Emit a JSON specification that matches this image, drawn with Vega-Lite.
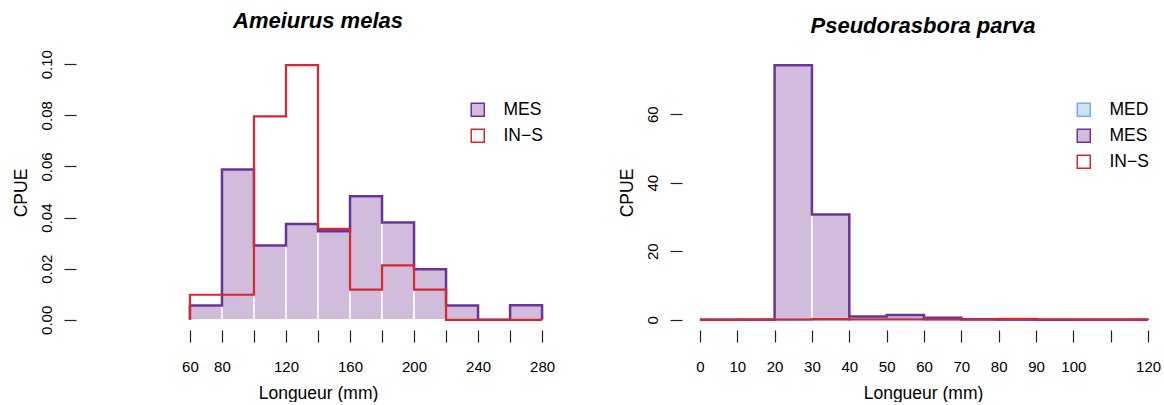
{
  "$schema": "https://vega.github.io/schema/vega-lite/v6.json",
  "padding": {"left": 12, "top": 9, "right": 0, "bottom": 0},
  "spacing": 58,
  "background": "white",
  "datasets": {
    "bins": [
      {"sp": "A", "grp": "MES", "lo": 60, "hi": 80, "cpue": 0.0056},
      {"sp": "A", "grp": "MES", "lo": 80, "hi": 100, "cpue": 0.0588},
      {"sp": "A", "grp": "MES", "lo": 100, "hi": 120, "cpue": 0.0291},
      {"sp": "A", "grp": "MES", "lo": 120, "hi": 140, "cpue": 0.0375},
      {"sp": "A", "grp": "MES", "lo": 140, "hi": 160, "cpue": 0.0346},
      {"sp": "A", "grp": "MES", "lo": 160, "hi": 180, "cpue": 0.0483},
      {"sp": "A", "grp": "MES", "lo": 180, "hi": 200, "cpue": 0.0381},
      {"sp": "A", "grp": "MES", "lo": 200, "hi": 220, "cpue": 0.0198},
      {"sp": "A", "grp": "MES", "lo": 220, "hi": 240, "cpue": 0.0056},
      {"sp": "A", "grp": "MES", "lo": 240, "hi": 260, "cpue": 0},
      {"sp": "A", "grp": "MES", "lo": 260, "hi": 280, "cpue": 0.0057},
      {"sp": "A", "grp": "IN-S", "lo": 60, "hi": 80, "cpue": 0.0098},
      {"sp": "A", "grp": "IN-S", "lo": 80, "hi": 100, "cpue": 0.0098},
      {"sp": "A", "grp": "IN-S", "lo": 100, "hi": 120, "cpue": 0.0796},
      {"sp": "A", "grp": "IN-S", "lo": 120, "hi": 140, "cpue": 0.0996},
      {"sp": "A", "grp": "IN-S", "lo": 140, "hi": 160, "cpue": 0.0356},
      {"sp": "A", "grp": "IN-S", "lo": 160, "hi": 180, "cpue": 0.0118},
      {"sp": "A", "grp": "IN-S", "lo": 180, "hi": 200, "cpue": 0.0213},
      {"sp": "A", "grp": "IN-S", "lo": 200, "hi": 220, "cpue": 0.0118},
      {"sp": "A", "grp": "IN-S", "lo": 220, "hi": 240, "cpue": 0},
      {"sp": "A", "grp": "IN-S", "lo": 240, "hi": 260, "cpue": 0},
      {"sp": "A", "grp": "IN-S", "lo": 260, "hi": 280, "cpue": 0},
      {"sp": "B", "grp": "MED", "lo": 0, "hi": 10, "cpue": 0},
      {"sp": "B", "grp": "MED", "lo": 10, "hi": 20, "cpue": 0},
      {"sp": "B", "grp": "MED", "lo": 20, "hi": 30, "cpue": 0},
      {"sp": "B", "grp": "MED", "lo": 30, "hi": 40, "cpue": 0.1},
      {"sp": "B", "grp": "MED", "lo": 40, "hi": 50, "cpue": 0.4},
      {"sp": "B", "grp": "MED", "lo": 50, "hi": 60, "cpue": 0.3},
      {"sp": "B", "grp": "MED", "lo": 60, "hi": 70, "cpue": 0.2},
      {"sp": "B", "grp": "MED", "lo": 70, "hi": 80, "cpue": 0.1},
      {"sp": "B", "grp": "MED", "lo": 80, "hi": 90, "cpue": 0},
      {"sp": "B", "grp": "MED", "lo": 90, "hi": 100, "cpue": 0},
      {"sp": "B", "grp": "MED", "lo": 100, "hi": 110, "cpue": 0},
      {"sp": "B", "grp": "MED", "lo": 110, "hi": 120, "cpue": 0},
      {"sp": "B", "grp": "MES", "lo": 0, "hi": 10, "cpue": 0},
      {"sp": "B", "grp": "MES", "lo": 10, "hi": 20, "cpue": 0},
      {"sp": "B", "grp": "MES", "lo": 20, "hi": 30, "cpue": 74.3},
      {"sp": "B", "grp": "MES", "lo": 30, "hi": 40, "cpue": 30.7},
      {"sp": "B", "grp": "MES", "lo": 40, "hi": 50, "cpue": 1.0},
      {"sp": "B", "grp": "MES", "lo": 50, "hi": 60, "cpue": 1.4},
      {"sp": "B", "grp": "MES", "lo": 60, "hi": 70, "cpue": 0.6},
      {"sp": "B", "grp": "MES", "lo": 70, "hi": 80, "cpue": 0.2},
      {"sp": "B", "grp": "MES", "lo": 80, "hi": 90, "cpue": 0.1},
      {"sp": "B", "grp": "MES", "lo": 90, "hi": 100, "cpue": 0},
      {"sp": "B", "grp": "MES", "lo": 100, "hi": 110, "cpue": 0},
      {"sp": "B", "grp": "MES", "lo": 110, "hi": 120, "cpue": 0},
      {"sp": "B", "grp": "IN-S", "lo": 0, "hi": 10, "cpue": 0},
      {"sp": "B", "grp": "IN-S", "lo": 10, "hi": 20, "cpue": 0.05},
      {"sp": "B", "grp": "IN-S", "lo": 20, "hi": 30, "cpue": 0.1},
      {"sp": "B", "grp": "IN-S", "lo": 30, "hi": 40, "cpue": 0.2},
      {"sp": "B", "grp": "IN-S", "lo": 40, "hi": 50, "cpue": 0.1},
      {"sp": "B", "grp": "IN-S", "lo": 50, "hi": 60, "cpue": 0.1},
      {"sp": "B", "grp": "IN-S", "lo": 60, "hi": 70, "cpue": 0.1},
      {"sp": "B", "grp": "IN-S", "lo": 70, "hi": 80, "cpue": 0.1},
      {"sp": "B", "grp": "IN-S", "lo": 80, "hi": 90, "cpue": 0.3},
      {"sp": "B", "grp": "IN-S", "lo": 90, "hi": 100, "cpue": 0.1},
      {"sp": "B", "grp": "IN-S", "lo": 100, "hi": 110, "cpue": 0.05},
      {"sp": "B", "grp": "IN-S", "lo": 110, "hi": 120, "cpue": 0.05}
    ],
    "outline": [
      {"sp": "A", "grp": "MES", "i": 0, "x": 60, "cpue": 0},
      {"sp": "A", "grp": "MES", "i": 1, "x": 60, "cpue": 0.0056},
      {"sp": "A", "grp": "MES", "i": 2, "x": 80, "cpue": 0.0588},
      {"sp": "A", "grp": "MES", "i": 3, "x": 100, "cpue": 0.0291},
      {"sp": "A", "grp": "MES", "i": 4, "x": 120, "cpue": 0.0375},
      {"sp": "A", "grp": "MES", "i": 5, "x": 140, "cpue": 0.0346},
      {"sp": "A", "grp": "MES", "i": 6, "x": 160, "cpue": 0.0483},
      {"sp": "A", "grp": "MES", "i": 7, "x": 180, "cpue": 0.0381},
      {"sp": "A", "grp": "MES", "i": 8, "x": 200, "cpue": 0.0198},
      {"sp": "A", "grp": "MES", "i": 9, "x": 220, "cpue": 0.0056},
      {"sp": "A", "grp": "MES", "i": 10, "x": 240, "cpue": 0},
      {"sp": "A", "grp": "MES", "i": 11, "x": 260, "cpue": 0.0057},
      {"sp": "A", "grp": "MES", "i": 12, "x": 280, "cpue": 0.0057},
      {"sp": "A", "grp": "MES", "i": 13, "x": 280, "cpue": 0},
      {"sp": "A", "grp": "IN-S", "i": 0, "x": 60, "cpue": 0},
      {"sp": "A", "grp": "IN-S", "i": 1, "x": 60, "cpue": 0.0098},
      {"sp": "A", "grp": "IN-S", "i": 2, "x": 80, "cpue": 0.0098},
      {"sp": "A", "grp": "IN-S", "i": 3, "x": 100, "cpue": 0.0796},
      {"sp": "A", "grp": "IN-S", "i": 4, "x": 120, "cpue": 0.0996},
      {"sp": "A", "grp": "IN-S", "i": 5, "x": 140, "cpue": 0.0356},
      {"sp": "A", "grp": "IN-S", "i": 6, "x": 160, "cpue": 0.0118},
      {"sp": "A", "grp": "IN-S", "i": 7, "x": 180, "cpue": 0.0213},
      {"sp": "A", "grp": "IN-S", "i": 8, "x": 200, "cpue": 0.0118},
      {"sp": "A", "grp": "IN-S", "i": 9, "x": 220, "cpue": 0},
      {"sp": "A", "grp": "IN-S", "i": 10, "x": 240, "cpue": 0},
      {"sp": "A", "grp": "IN-S", "i": 11, "x": 260, "cpue": 0},
      {"sp": "A", "grp": "IN-S", "i": 12, "x": 280, "cpue": 0},
      {"sp": "A", "grp": "IN-S", "i": 13, "x": 280, "cpue": 0},
      {"sp": "B", "grp": "MED", "i": 0, "x": 0, "cpue": 0},
      {"sp": "B", "grp": "MED", "i": 1, "x": 0, "cpue": 0},
      {"sp": "B", "grp": "MED", "i": 2, "x": 10, "cpue": 0},
      {"sp": "B", "grp": "MED", "i": 3, "x": 20, "cpue": 0},
      {"sp": "B", "grp": "MED", "i": 4, "x": 30, "cpue": 0.1},
      {"sp": "B", "grp": "MED", "i": 5, "x": 40, "cpue": 0.4},
      {"sp": "B", "grp": "MED", "i": 6, "x": 50, "cpue": 0.3},
      {"sp": "B", "grp": "MED", "i": 7, "x": 60, "cpue": 0.2},
      {"sp": "B", "grp": "MED", "i": 8, "x": 70, "cpue": 0.1},
      {"sp": "B", "grp": "MED", "i": 9, "x": 80, "cpue": 0},
      {"sp": "B", "grp": "MED", "i": 10, "x": 90, "cpue": 0},
      {"sp": "B", "grp": "MED", "i": 11, "x": 100, "cpue": 0},
      {"sp": "B", "grp": "MED", "i": 12, "x": 110, "cpue": 0},
      {"sp": "B", "grp": "MED", "i": 13, "x": 120, "cpue": 0},
      {"sp": "B", "grp": "MED", "i": 14, "x": 120, "cpue": 0},
      {"sp": "B", "grp": "MES", "i": 0, "x": 0, "cpue": 0},
      {"sp": "B", "grp": "MES", "i": 1, "x": 0, "cpue": 0},
      {"sp": "B", "grp": "MES", "i": 2, "x": 10, "cpue": 0},
      {"sp": "B", "grp": "MES", "i": 3, "x": 20, "cpue": 74.3},
      {"sp": "B", "grp": "MES", "i": 4, "x": 30, "cpue": 30.7},
      {"sp": "B", "grp": "MES", "i": 5, "x": 40, "cpue": 1.0},
      {"sp": "B", "grp": "MES", "i": 6, "x": 50, "cpue": 1.4},
      {"sp": "B", "grp": "MES", "i": 7, "x": 60, "cpue": 0.6},
      {"sp": "B", "grp": "MES", "i": 8, "x": 70, "cpue": 0.2},
      {"sp": "B", "grp": "MES", "i": 9, "x": 80, "cpue": 0.1},
      {"sp": "B", "grp": "MES", "i": 10, "x": 90, "cpue": 0},
      {"sp": "B", "grp": "MES", "i": 11, "x": 100, "cpue": 0},
      {"sp": "B", "grp": "MES", "i": 12, "x": 110, "cpue": 0},
      {"sp": "B", "grp": "MES", "i": 13, "x": 120, "cpue": 0},
      {"sp": "B", "grp": "MES", "i": 14, "x": 120, "cpue": 0},
      {"sp": "B", "grp": "IN-S", "i": 0, "x": 0, "cpue": 0},
      {"sp": "B", "grp": "IN-S", "i": 1, "x": 0, "cpue": 0},
      {"sp": "B", "grp": "IN-S", "i": 2, "x": 10, "cpue": 0.05},
      {"sp": "B", "grp": "IN-S", "i": 3, "x": 20, "cpue": 0.1},
      {"sp": "B", "grp": "IN-S", "i": 4, "x": 30, "cpue": 0.2},
      {"sp": "B", "grp": "IN-S", "i": 5, "x": 40, "cpue": 0.1},
      {"sp": "B", "grp": "IN-S", "i": 6, "x": 50, "cpue": 0.1},
      {"sp": "B", "grp": "IN-S", "i": 7, "x": 60, "cpue": 0.1},
      {"sp": "B", "grp": "IN-S", "i": 8, "x": 70, "cpue": 0.1},
      {"sp": "B", "grp": "IN-S", "i": 9, "x": 80, "cpue": 0.3},
      {"sp": "B", "grp": "IN-S", "i": 10, "x": 90, "cpue": 0.1},
      {"sp": "B", "grp": "IN-S", "i": 11, "x": 100, "cpue": 0.05},
      {"sp": "B", "grp": "IN-S", "i": 12, "x": 110, "cpue": 0.05},
      {"sp": "B", "grp": "IN-S", "i": 13, "x": 120, "cpue": 0.05},
      {"sp": "B", "grp": "IN-S", "i": 14, "x": 120, "cpue": 0}
    ]
  },
  "resolve": {
    "scale": {"x": "independent", "y": "independent", "fill": "independent", "stroke": "independent"},
    "legend": {"fill": "independent", "stroke": "independent"}
  },
  "hconcat": [
    {
      "width": 484,
      "height": 275,
      "title": {"text": "Ameiurus melas"},
      "resolve": {"legend": {"fill": "independent", "stroke": "independent"}},
      "layer": [
        {
          "data": {"name": "bins"},
          "transform": [{"filter": "datum.sp == 'A' && datum.grp != 'IN-S'"}],
          "mark": {"type": "rect", "stroke": "white", "strokeWidth": 1.5},
          "encoding": {
            "x": {"field": "lo", "type": "quantitative", "scale": {"domain": [-11.2, 291.2], "nice": false, "zero": false},
              "axis": {"title": "Longueur (mm)", "values": [60, 80, 100, 120, 140, 160, 180, 200, 220, 240, 260, 280],
                "labelExpr": "indexof([100, 140, 180, 220, 260], datum.value) >= 0 ? '' : datum.label"}},
            "x2": {"field": "hi"},
            "y": {"field": "cpue", "type": "quantitative", "scale": {"domain": [-0.00398, 0.10358], "nice": false, "zero": false},
              "axis": {"title": "CPUE", "values": [0, 0.02, 0.04, 0.06, 0.08, 0.1], "format": ".2f"}},
            "y2": {"datum": 0},
            "fill": {"field": "grp", "type": "nominal", "legend": null,
              "scale": {"domain": ["MES", "IN-S"], "range": ["#d2bcdc", "white"]}}
          }
        },
        {
          "data": {"name": "outline"},
          "transform": [{"filter": "datum.sp == 'A' && datum.grp != 'IN-S'"}],
          "mark": {"type": "line", "interpolate": "step-after", "strokeWidth": 2.5},
          "encoding": {
            "x": {"field": "x", "type": "quantitative"},
            "y": {"field": "cpue", "type": "quantitative"},
            "order": {"field": "i", "type": "quantitative"},
            "stroke": {"field": "grp", "type": "nominal", "legend": null,
              "scale": {"domain": ["MES", "IN-S"], "range": ["#6a339b", "#d7282f"]}}
          }
        },
        {
          "data": {"name": "outline"},
          "transform": [{"filter": "datum.sp == 'A' && datum.grp == 'IN-S'"}],
          "mark": {"type": "line", "interpolate": "step-after", "strokeWidth": 2.2},
          "encoding": {
            "x": {"field": "x", "type": "quantitative"},
            "y": {"field": "cpue", "type": "quantitative"},
            "order": {"field": "i", "type": "quantitative"},
            "stroke": {"field": "grp", "type": "nominal", "legend": null}
          }
        },
        {
          "data": {"name": "bins"},
          "transform": [{"filter": "datum.sp == 'A'"}],
          "mark": {"type": "point", "shape": "square", "filled": true, "opacity": 0},
          "encoding": {
            "x": {"field": "lo", "type": "quantitative"},
            "y": {"field": "cpue", "type": "quantitative"},
            "fill": {"field": "grp", "type": "nominal",
              "legend": {"orient": "none", "legendX": 393, "legendY": 46, "title": null, "symbolType": "square", "symbolSize": 169, "symbolStrokeWidth": 1.5, "symbolOpacity": 1, "labelFontSize": 17.5, "labelColor": "black", "labelOffset": 17, "rowPadding": 6, "padding": 0, "labelExpr": "replace(datum.label, '-', '\u2212')"}},
            "stroke": {"field": "grp", "type": "nominal",
              "legend": {"orient": "none", "legendX": 393, "legendY": 46, "title": null, "symbolType": "square", "symbolSize": 169, "symbolStrokeWidth": 1.5, "symbolOpacity": 1, "labelFontSize": 17.5, "labelColor": "black", "labelOffset": 17, "rowPadding": 6, "padding": 0, "labelExpr": "replace(datum.label, '-', '\u2212')"}}
          }
        },
        {
          "mark": {"type": "rule", "color": "#222", "strokeWidth": 1.2},
          "encoding": {"x": {"datum": 60}, "x2": {"datum": 280}, "y": {"value": "height"}}
        },
        {
          "mark": {"type": "rule", "color": "#222", "strokeWidth": 1.2},
          "encoding": {"y": {"datum": 0}, "y2": {"datum": 0.1}, "x": {"value": 0}}
        }
      ]
    },
    {
      "width": 482,
      "height": 275,
      "title": {"text": "Pseudorasbora parva"},
      "resolve": {"legend": {"fill": "independent", "stroke": "independent"}},
      "layer": [
        {
          "data": {"name": "bins"},
          "transform": [{"filter": "datum.sp == 'B' && datum.grp != 'IN-S'"}],
          "mark": {"type": "rect", "stroke": "white", "strokeWidth": 1.5},
          "encoding": {
            "x": {"field": "lo", "type": "quantitative", "scale": {"domain": [-4.8, 124.27], "nice": false, "zero": false},
              "axis": {"title": "Longueur (mm)", "values": [0, 10, 20, 30, 40, 50, 60, 70, 80, 90, 100, 110, 120],
                "labelExpr": "datum.value == 110 ? '' : datum.label"}},
            "x2": {"field": "hi"},
            "y": {"field": "cpue", "type": "quantitative", "scale": {"domain": [-2.97, 77.27], "nice": false, "zero": false},
              "axis": {"title": "CPUE", "values": [0, 20, 40, 60], "format": "d"}},
            "y2": {"datum": 0},
            "fill": {"field": "grp", "type": "nominal", "legend": null,
              "scale": {"domain": ["MED", "MES", "IN-S"], "range": ["#cfe2f3", "#d2bcdc", "white"]}}
          }
        },
        {
          "data": {"name": "outline"},
          "transform": [{"filter": "datum.sp == 'B' && datum.grp != 'IN-S'"}],
          "mark": {"type": "line", "interpolate": "step-after", "strokeWidth": 2.5},
          "encoding": {
            "x": {"field": "x", "type": "quantitative"},
            "y": {"field": "cpue", "type": "quantitative"},
            "order": {"field": "i", "type": "quantitative"},
            "stroke": {"field": "grp", "type": "nominal", "legend": null,
              "scale": {"domain": ["MED", "MES", "IN-S"], "range": ["#7eaede", "#6a339b", "#d7282f"]}}
          }
        },
        {
          "data": {"name": "outline"},
          "transform": [{"filter": "datum.sp == 'B' && datum.grp == 'IN-S'"}],
          "mark": {"type": "line", "interpolate": "step-after", "strokeWidth": 2.2},
          "encoding": {
            "x": {"field": "x", "type": "quantitative"},
            "y": {"field": "cpue", "type": "quantitative"},
            "order": {"field": "i", "type": "quantitative"},
            "stroke": {"field": "grp", "type": "nominal", "legend": null}
          }
        },
        {
          "data": {"name": "bins"},
          "transform": [{"filter": "datum.sp == 'B'"}],
          "mark": {"type": "point", "shape": "square", "filled": true, "opacity": 0},
          "encoding": {
            "x": {"field": "lo", "type": "quantitative"},
            "y": {"field": "cpue", "type": "quantitative"},
            "fill": {"field": "grp", "type": "nominal",
              "legend": {"orient": "none", "legendX": 393, "legendY": 46, "title": null, "symbolType": "square", "symbolSize": 169, "symbolStrokeWidth": 1.5, "symbolOpacity": 1, "labelFontSize": 17.5, "labelColor": "black", "labelOffset": 17, "rowPadding": 6, "padding": 0, "labelExpr": "replace(datum.label, '-', '\u2212')"}},
            "stroke": {"field": "grp", "type": "nominal",
              "legend": {"orient": "none", "legendX": 393, "legendY": 46, "title": null, "symbolType": "square", "symbolSize": 169, "symbolStrokeWidth": 1.5, "symbolOpacity": 1, "labelFontSize": 17.5, "labelColor": "black", "labelOffset": 17, "rowPadding": 6, "padding": 0, "labelExpr": "replace(datum.label, '-', '\u2212')"}}
          }
        },
        {
          "mark": {"type": "rule", "color": "#222", "strokeWidth": 1.2},
          "encoding": {"x": {"datum": 0}, "x2": {"datum": 120}, "y": {"value": "height"}}
        },
        {
          "mark": {"type": "rule", "color": "#222", "strokeWidth": 1.2},
          "encoding": {"y": {"datum": 0}, "y2": {"datum": 60}, "x": {"value": 0}}
        }
      ]
    }
  ],
  "config": {
    "font": "Liberation Sans",
    "view": {"stroke": null},
    "title": {"font": "Liberation Sans", "fontSize": 22, "fontWeight": "bold", "fontStyle": "italic", "anchor": "middle", "frame": "group", "offset": 17, "color": "black"},
    "axis": {"grid": false, "domain": false, "tickSize": 12, "tickWidth": 1.2, "tickColor": "#222",
      "labelFont": "Liberation Sans", "labelFontSize": 15, "labelColor": "black", "labelOverlap": false, "labelFlush": false, "labelBound": false,
      "titleFont": "Liberation Sans", "titleFontSize": 17.5, "titleFontWeight": "normal", "titleColor": "black"},
    "axisX": {"labelPadding": 17, "titlePadding": 10},
    "axisY": {"labelAngle": 270, "labelAlign": "center", "labelBaseline": "bottom", "labelPadding": 10, "titlePadding": 9},
    "legend": {"labelFont": "Liberation Sans"}
  }
}
